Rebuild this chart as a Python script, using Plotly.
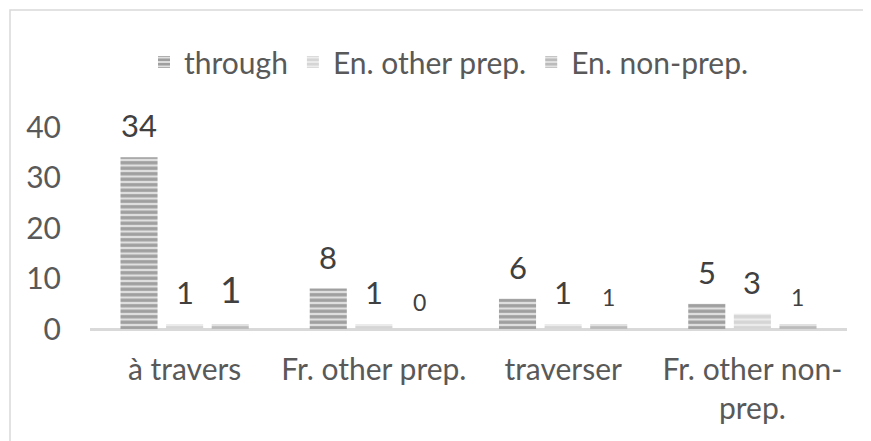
import plotly.graph_objects as go

# ---- data ----
categories = ["à travers", "Fr. other prep.", "traverser", "Fr. other non-<br>prep."]
series_names = ["through", "En. other prep.", "En. non-prep."]
through = [34, 8, 6, 5]
en_other_prep = [1, 1, 1, 3]
en_non_prep = [1, 0, 1, 1]
y_ticks = [0, 10, 20, 30, 40]

series_values = [through, en_other_prep, en_non_prep]

# ---- style ----
OFF = 8  # page body margin
W, H = 871 - OFF, 441 - OFF
L, R, T, B = 90 - OFF, 24, 127 - OFF, 112
plot_w = W - L - R
plot_h = H - T - B
BARGAP = 0.277
BARGROUPGAP = 0.187
FONT = "Lato, Carlito, Calibri, sans-serif"
TXT = "#595959"
LBL = "#404040"
FS = 30

styles = [
    dict(bg="#e0e0e0", fg="#5e5e5e"),
    dict(bg="#ececec", fg="#bdbdbd"),
    dict(bg="#e2e2e2", fg="#939393"),
]
label_sizes = [[31, 31, 31, 31], [31, 31, 31, 31], [37, 23, 23, 23]]

fig = go.Figure()
for name, vals, st in zip(series_names, series_values, styles):
    fig.add_trace(go.Bar(
        name=name, x=categories, y=vals,
        marker=dict(color=st["bg"], line=dict(width=0),
                    pattern=dict(shape="-", fgcolor=st["fg"], bgcolor=st["bg"],
                                 size=5.5, solidity=0.6, fillmode="overlay")),
    ))

# data labels as annotations aligned with grouped bars
cat_w = plot_w / len(categories)
slot = cat_w * (1 - BARGAP) / len(series_names)
for i, (vals, sizes) in enumerate(zip(series_values, label_sizes)):
    for c, v, s in zip(categories, vals, sizes):
        fig.add_annotation(x=c, y=v, text=str(v), showarrow=False,
                           xanchor="center", yanchor="bottom",
                           xshift=(i - 1) * slot, yshift=11,
                           font=dict(family=FONT, size=s, color=LBL))

# chart border (at page pixel 10,10)
bx0, by0 = 10 - OFF, 10 - OFF
fig.add_shape(type="rect", xref="paper", yref="paper",
              x0=(bx0 - L) / plot_w, x1=(W + 10 - L) / plot_w,
              y0=(H - B - (H + 10)) / plot_h, y1=(H - B - by0) / plot_h,
              line=dict(color="#d9d9d9", width=1.5), layer="below")

fig.update_layout(
    width=W, height=H,
    margin=dict(l=L, r=R, t=T, b=B),
    paper_bgcolor="white", plot_bgcolor="white",
    barmode="group", bargap=BARGAP, bargroupgap=BARGROUPGAP,
    font=dict(family=FONT, size=FS, color=TXT),
    showlegend=True,
    legend=dict(orientation="h", x=(449 - OFF - L) / plot_w, xanchor="center",
                y=(H - B - (62 - OFF)) / plot_h, yanchor="middle",
                font=dict(family=FONT, size=FS, color=TXT),
                itemwidth=30, tracegroupgap=0, bgcolor="rgba(0,0,0,0)"),
    xaxis=dict(showgrid=False, showline=False, zeroline=False, ticks="",
               ticklabelstandoff=20, tickfont=dict(family=FONT, size=FS, color=TXT)),
    yaxis=dict(range=[0, 40], tickvals=y_ticks, showgrid=False, showline=False,
               zeroline=True, zerolinecolor="#d9d9d9", zerolinewidth=3,
               ticks="", ticklabelstandoff=28,
               tickfont=dict(family=FONT, size=FS, color=TXT)),
)

fig.write_html("out.html")
